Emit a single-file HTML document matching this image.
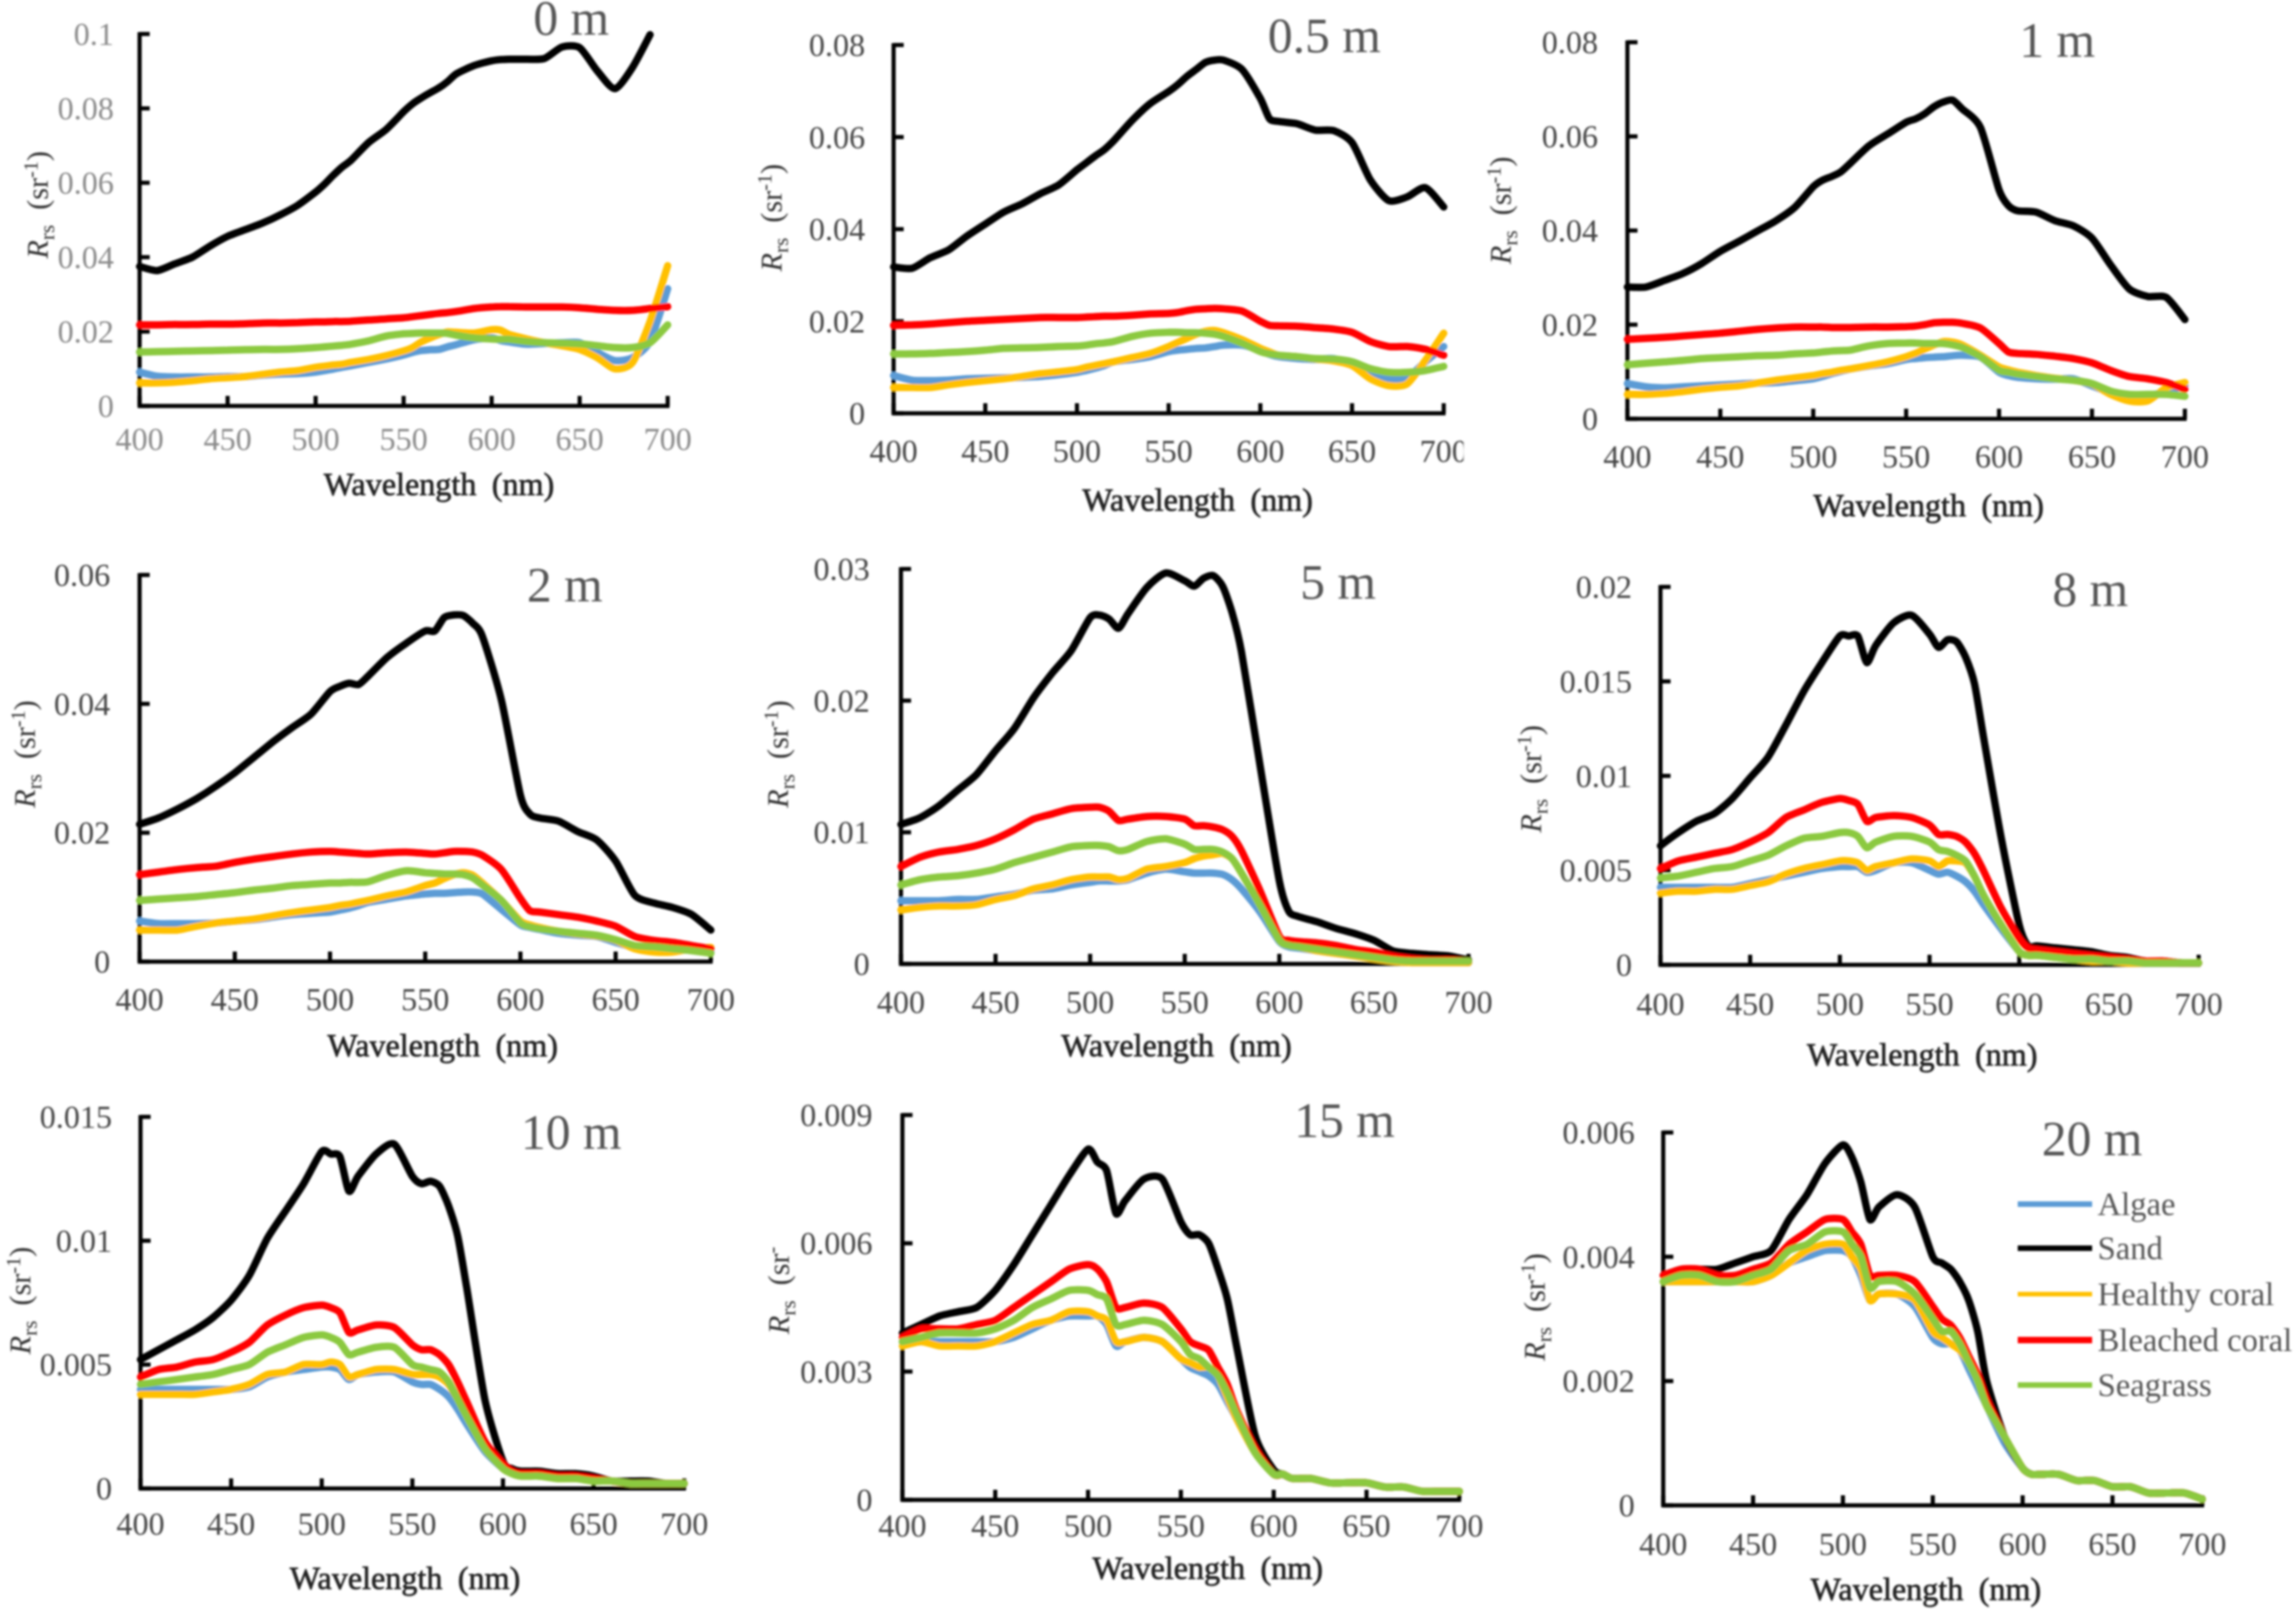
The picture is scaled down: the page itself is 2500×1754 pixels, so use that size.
<!DOCTYPE html>
<html lang="en">
<head>
<meta charset="utf-8">
<title>Rrs spectra by depth</title>
<style>
html,body{margin:0;padding:0;background:#fff;width:2500px;height:1754px;overflow:hidden}
svg{display:block}
text{font-family:"Liberation Serif",serif}
.tick{font-size:35px;fill:#444}
.tick-light{font-size:35px;fill:#8a8a8a}
.xt{font-size:35px;fill:#222;stroke:#222;stroke-width:.7px;text-anchor:middle}
.yt{font-size:33px;fill:#333;text-anchor:middle}
.tt{font-size:54px;fill:#555;text-anchor:middle}
.lg{font-size:35.5px;fill:#555}
</style>
</head>
<body>
<svg id="figure" xmlns="http://www.w3.org/2000/svg" width="2500" height="1754" viewBox="0 0 2500 1754">
<defs><filter id="soft" x="-2%" y="-2%" width="104%" height="104%"><feGaussianBlur stdDeviation="1"/></filter></defs>
<rect width="2500" height="1754" fill="#fff"/>
<g filter="url(#soft)">

<g id="panel-0">
<text class="tt" x="622" y="38">0 m</text>
<text class="xt" x="478" y="539">Wavelength<tspan dx="8"> (nm)</tspan></text>
<text class="yt" transform="translate(52,223) rotate(-90)"><tspan font-style="italic">R</tspan><tspan dy="7" font-size="23">rs</tspan><tspan dy="-7" dx="8"> (sr</tspan><tspan dy="-11" font-size="22">-1</tspan><tspan dy="11">)</tspan></text>
</g>

<g id="panel-1">
<text class="tt" x="1442" y="57">0.5 m</text>
<text class="xt" x="1304" y="556">Wavelength<tspan dx="8"> (nm)</tspan></text>
<text class="yt" transform="translate(851,237) rotate(-90)"><tspan font-style="italic">R</tspan><tspan dy="7" font-size="23">rs</tspan><tspan dy="-7" dx="8"> (sr</tspan><tspan dy="-11" font-size="22">-1</tspan><tspan dy="11">)</tspan></text>
</g>

<g id="panel-2">
<text class="tt" x="2240" y="62">1 m</text>
<text class="xt" x="2100" y="562">Wavelength<tspan dx="8"> (nm)</tspan></text>
<text class="yt" transform="translate(1645,229) rotate(-90)"><tspan font-style="italic">R</tspan><tspan dy="7" font-size="23">rs</tspan><tspan dy="-7" dx="8"> (sr</tspan><tspan dy="-11" font-size="22">-1</tspan><tspan dy="11">)</tspan></text>
</g>

<g id="panel-3">
<text class="tt" x="615" y="655">2 m</text>
<text class="xt" x="482" y="1150">Wavelength<tspan dx="8"> (nm)</tspan></text>
<text class="yt" transform="translate(38,821) rotate(-90)"><tspan font-style="italic">R</tspan><tspan dy="7" font-size="23">rs</tspan><tspan dy="-7" dx="8"> (sr</tspan><tspan dy="-11" font-size="22">-1</tspan><tspan dy="11">)</tspan></text>
</g>

<g id="panel-4">
<text class="tt" x="1457" y="652">5 m</text>
<text class="xt" x="1281" y="1150">Wavelength<tspan dx="8"> (nm)</tspan></text>
<text class="yt" transform="translate(858,821) rotate(-90)"><tspan font-style="italic">R</tspan><tspan dy="7" font-size="23">rs</tspan><tspan dy="-7" dx="8"> (sr</tspan><tspan dy="-11" font-size="22">-1</tspan><tspan dy="11">)</tspan></text>
</g>

<g id="panel-5">
<text class="tt" x="2276" y="660">8 m</text>
<text class="xt" x="2093" y="1160">Wavelength<tspan dx="8"> (nm)</tspan></text>
<text class="yt" transform="translate(1678,848) rotate(-90)"><tspan font-style="italic">R</tspan><tspan dy="7" font-size="23">rs</tspan><tspan dy="-7" dx="8"> (sr</tspan><tspan dy="-11" font-size="22">-1</tspan><tspan dy="11">)</tspan></text>
</g>

<g id="panel-6">
<text class="tt" x="622" y="1251">10 m</text>
<text class="xt" x="441" y="1730">Wavelength<tspan dx="8"> (nm)</tspan></text>
<text class="yt" transform="translate(33,1416) rotate(-90)"><tspan font-style="italic">R</tspan><tspan dy="7" font-size="23">rs</tspan><tspan dy="-7" dx="8"> (sr</tspan><tspan dy="-11" font-size="22">-1</tspan><tspan dy="11">)</tspan></text>
</g>

<g id="panel-7">
<text class="tt" x="1464" y="1238">15 m</text>
<text class="xt" x="1315" y="1719">Wavelength<tspan dx="8"> (nm)</tspan></text>
<text class="yt" transform="translate(859,1405) rotate(-90)"><tspan font-style="italic">R</tspan><tspan dy="7" font-size="23">rs</tspan><tspan dy="-7" dx="8"> (sr</tspan><tspan dy="-11" font-size="22">-</tspan></text>
</g>

<g id="panel-8">
<text class="tt" x="2278" y="1258">20 m</text>
<text class="xt" x="2097" y="1742">Wavelength<tspan dx="8"> (nm)</tspan></text>
<text class="yt" transform="translate(1682,1423) rotate(-90)"><tspan font-style="italic">R</tspan><tspan dy="7" font-size="23">rs</tspan><tspan dy="-7" dx="8"> (sr</tspan><tspan dy="-11" font-size="22">-1</tspan><tspan dy="11">)</tspan></text>
</g>

<g>
<g><line x1="2197" x2="2278" y1="1311" y2="1311" stroke="#5b9bd5" stroke-width="6"/><text class="lg" x="2284" y="1323">Algae</text></g>
<g><line x1="2197" x2="2278" y1="1359" y2="1359" stroke="#000" stroke-width="6"/><text class="lg" x="2284" y="1371">Sand</text></g>
<g><line x1="2197" x2="2278" y1="1409" y2="1409" stroke="#ffc000" stroke-width="5"/><text class="lg" x="2284" y="1421">Healthy coral</text></g>
<g><line x1="2197" x2="2278" y1="1459" y2="1459" stroke="#ff0000" stroke-width="7"/><text class="lg" x="2284" y="1471">Bleached coral</text></g>
<g><line x1="2197" x2="2278" y1="1508" y2="1508" stroke="#8bc93f" stroke-width="6"/><text class="lg" x="2284" y="1520">Seagrass</text></g>
</g>
</g>
</svg>
<script>
// Values in units of 1e-5 sr^-1.
const valueUnit = 1e-5;
const wavelengths = [400,410,420,430,440,450,460,470,480,490,500,505,510,515,520,530,540,550,555,560,565,570,575,580,590,600,605,610,620,630,640,650,660,670,680,690,700];
const xTickLabels = [400,450,500,550,600,650,700];

const yTicks0 = ["0","0.02","0.04","0.06","0.08","0.1"];
const algae0 = [910,800,780,780,780,790,790,830,860,870,910,950,990,1040,1080,1170,1260,1370,1440,1490,1510,1520,1590,1650,1780,1830,1760,1720,1660,1680,1700,1700,1440,1220,1300,1740,3150];
const sand0 = [3750,3640,3820,4000,4300,4560,4740,4920,5140,5400,5750,5960,6200,6420,6600,7080,7430,7910,8120,8280,8420,8550,8720,8930,9150,9280,9310,9320,9320,9340,9650,9630,9010,8530,9100,9980,null];
const healthy0 = [620,620,640,680,730,760,790,850,910,950,1040,1070,1100,1120,1170,1250,1350,1480,1570,1720,1830,1920,1990,1980,1960,2050,2040,1920,1800,1700,1620,1520,1300,1000,1170,2270,3770];
const bleached0 = [2180,2180,2190,2190,2200,2200,2210,2230,2230,2240,2260,2260,2270,2270,2280,2310,2340,2370,2400,2430,2460,2490,2510,2540,2620,2660,2670,2670,2660,2660,2660,2640,2600,2570,2570,2620,2670];
const seagrass0 = [1450,1460,1470,1480,1490,1500,1510,1520,1520,1540,1570,1590,1610,1630,1660,1750,1880,1940,1950,1960,1960,1960,1950,1900,1830,1800,1790,1790,1730,1700,1690,1670,1620,1570,1570,1700,2180];

const yTicks05 = ["0","0.02","0.04","0.06","0.08"];
const algae05 = [820,720,710,720,750,760,770,780,800,840,890,930,980,1040,1120,1170,1230,1340,1370,1390,1410,1420,1450,1480,1480,1370,1280,1230,1190,1170,1190,1040,860,750,780,1120,1450];
const sand05 = [3180,3150,3380,3550,3850,4110,4370,4550,4770,4960,5290,5440,5590,5730,5920,6360,6730,6990,7140,7320,7470,7620,7670,7670,7470,6840,6400,6340,6290,6150,6140,5880,5070,4620,4700,4900,4480];
const healthy05 = [560,560,560,620,670,710,750,800,860,900,950,1000,1040,1080,1120,1210,1300,1450,1540,1630,1720,1780,1800,1750,1600,1410,1330,1260,1230,1180,1140,1040,750,600,640,1150,1740];
const bleached05 = [1910,1920,1940,1970,2000,2020,2040,2060,2080,2080,2080,2090,2100,2110,2110,2130,2160,2170,2190,2230,2260,2270,2280,2270,2220,2000,1910,1900,1890,1860,1830,1760,1560,1450,1450,1390,1260];
const seagrass05 = [1290,1290,1300,1320,1340,1370,1410,1420,1430,1450,1460,1480,1510,1530,1560,1670,1740,1760,1760,1750,1750,1740,1720,1670,1520,1340,1290,1260,1230,1190,1180,1120,970,890,890,930,1020];

const yTicks1 = ["0","0.02","0.04","0.06","0.08"];
const algae1 = [750,680,660,680,700,720,740,760,770,810,850,900,960,1010,1060,1120,1170,1260,1280,1300,1310,1320,1340,1350,1310,990,920,880,850,840,850,700,560,460,480,590,700];
const sand1 = [2800,2800,2940,3090,3300,3560,3770,3990,4210,4490,4930,5070,5150,5250,5430,5800,6050,6300,6370,6480,6630,6730,6770,6590,6190,4860,4530,4420,4390,4210,4100,3840,3270,2760,2600,2580,2110];
const healthy1 = [520,520,540,580,630,670,700,760,820,870,920,960,990,1030,1060,1130,1210,1320,1390,1480,1570,1640,1630,1570,1350,1100,1040,990,920,860,820,740,520,380,380,660,770];
const bleached1 = [1690,1710,1730,1760,1790,1820,1860,1900,1930,1950,1950,1950,1940,1940,1940,1950,1950,1960,1970,2000,2040,2050,2050,2030,1930,1600,1420,1390,1370,1330,1280,1190,1030,900,850,770,630];
const seagrass1 = [1150,1180,1210,1240,1280,1300,1320,1340,1350,1380,1400,1420,1440,1450,1460,1550,1600,1610,1610,1600,1600,1600,1570,1520,1320,1030,990,950,900,850,820,750,590,520,520,520,480];

const yTicks2 = ["0","0.02","0.04","0.06"];
const algae2 = [630,590,590,590,600,630,650,690,730,750,770,800,830,870,920,970,1020,1050,1060,1060,1070,1080,1080,1050,810,570,530,500,440,410,390,300,220,200,200,190,150];
const sand2 = [2130,2230,2370,2530,2720,2930,3170,3410,3630,3840,4190,4270,4320,4300,4430,4720,4940,5130,5130,5340,5380,5370,5250,5050,4060,2580,2290,2230,2180,2020,1890,1560,1030,910,840,730,490];
const healthy2 = [490,490,490,550,600,630,660,710,760,800,840,870,890,920,950,1020,1080,1180,1220,1290,1350,1380,1340,1220,950,630,570,530,470,430,400,330,200,150,150,200,220];
const bleached2 = [1350,1390,1430,1460,1480,1540,1590,1630,1670,1700,1710,1700,1690,1680,1670,1690,1700,1680,1670,1690,1710,1710,1700,1650,1430,980,790,770,730,690,630,550,390,330,300,250,200];
const seagrass2 = [950,970,990,1010,1040,1070,1110,1140,1180,1200,1220,1220,1230,1230,1240,1340,1410,1380,1370,1360,1360,1350,1300,1190,950,600,540,510,470,440,410,340,250,230,200,170,130];

const yTicks5 = ["0","0.01","0.02","0.03"];
const algae5 = [480,480,480,490,490,510,530,560,570,600,620,630,630,630,640,690,720,700,690,690,690,680,640,570,390,170,130,120,100,80,60,40,20,10,10,10,10];
const sand5 = [1060,1110,1200,1320,1440,1620,1790,2020,2210,2380,2630,2650,2620,2550,2660,2860,2970,2910,2870,2930,2950,2870,2670,2370,1490,630,400,360,320,270,230,180,100,80,70,60,30];
const healthy5 = [410,430,440,440,450,490,520,570,600,640,660,660,660,640,650,720,740,770,800,820,830,840,800,690,440,180,140,130,100,80,60,40,20,10,10,10,10];
const bleached5 = [740,810,850,870,900,950,1020,1100,1140,1180,1190,1190,1160,1090,1100,1120,1120,1100,1050,1050,1040,1020,970,860,550,210,180,170,160,140,110,90,60,40,30,30,20];
const seagrass5 = [600,640,660,670,690,720,770,810,850,890,900,900,890,860,870,930,950,910,870,870,870,850,800,690,440,180,140,130,110,90,70,50,30,20,20,20,20];

const yTicks8 = ["0","0.005","0.01","0.015","0.02"];
const algae8 = [410,410,410,410,410,430,450,470,490,510,520,520,520,490,500,540,540,500,480,490,470,440,390,320,190,70,50,50,40,30,20,20,10,10,10,10,10];
const sand8 = [630,700,760,800,880,990,1100,1270,1450,1600,1740,1740,1740,1600,1690,1810,1850,1750,1680,1720,1710,1630,1490,1210,670,210,100,100,90,80,70,50,40,20,20,10,10];
const healthy8 = [380,390,390,400,400,420,440,480,510,530,550,550,540,500,520,540,560,550,520,550,550,540,470,370,210,70,50,50,40,30,20,20,10,10,10,10,10];
const bleached8 = [510,550,570,590,610,650,700,780,820,860,880,870,850,760,780,790,780,740,690,690,680,650,590,500,300,140,90,80,70,60,50,40,30,20,20,10,10];
const seagrass8 = [460,470,490,510,520,550,580,630,670,680,700,700,680,620,650,680,680,650,610,600,580,550,470,370,210,70,50,50,40,30,30,20,20,10,10,10,10];

const yTicks10 = ["0","0.005","0.01","0.015"];
const algae10 = [400,400,400,400,400,400,410,450,470,480,490,490,480,440,460,470,470,430,420,420,400,370,320,260,150,80,60,50,50,40,40,30,30,20,20,20,20];
const sand10 = [520,560,600,640,690,760,860,1010,1120,1230,1360,1350,1340,1200,1260,1350,1390,1260,1230,1240,1220,1140,1020,810,360,110,80,70,70,60,60,50,30,30,30,20,20];
const healthy10 = [380,380,380,380,390,400,420,460,470,500,500,510,500,450,460,480,480,460,460,460,450,420,360,290,160,80,60,50,50,40,40,30,30,20,20,20,20];
const bleached10 = [450,480,490,510,520,550,590,660,700,730,740,730,710,630,640,660,650,580,560,560,540,500,430,350,190,100,70,60,60,50,50,40,30,20,20,20,20];
const seagrass10 = [420,430,440,450,460,480,500,550,580,610,620,610,590,540,550,570,570,500,490,480,470,430,360,290,160,80,60,50,50,40,40,30,30,20,20,20,20];

const yTicks15 = ["0","0.003","0.006","0.009"];
const algae15 = [370,370,370,370,370,370,380,400,420,430,430,430,410,360,370,380,370,330,310,300,290,270,230,190,110,60,60,50,50,40,40,40,30,30,20,20,20];
const sand15 = [390,410,430,440,450,490,550,620,690,760,820,790,770,670,700,750,750,650,620,620,600,540,470,360,150,70,60,50,50,40,40,40,30,30,20,20,20];
const healthy15 = [360,370,360,360,360,370,390,410,420,440,440,430,420,370,370,380,370,330,320,310,310,290,240,190,110,60,60,50,50,40,40,40,30,30,20,20,20];
const bleached15 = [380,400,400,400,410,420,450,480,510,540,550,540,510,450,450,460,450,400,370,360,350,310,270,210,120,60,60,50,50,40,40,40,30,30,20,20,20];
const seagrass15 = [370,380,390,390,390,400,420,450,470,490,490,480,470,410,410,420,410,370,340,330,310,290,250,200,110,60,60,50,50,40,40,40,30,30,20,20,20];

const yTicks20 = ["0","0.002","0.004","0.006"];
const algae20 = [360,360,360,360,360,360,370,390,400,410,410,400,370,330,340,340,320,270,260,260,250,220,190,160,100,60,50,50,50,40,40,30,30,20,20,20,10];
const sand20 = [370,380,380,380,390,400,410,460,500,550,580,560,520,460,480,500,480,400,390,380,360,330,280,200,110,60,50,50,50,40,40,30,30,20,20,20,10];
const healthy20 = [360,360,360,360,360,360,370,390,410,420,420,400,380,330,340,340,330,280,270,260,250,230,200,160,110,60,50,50,50,40,40,30,30,20,20,20,10];
const bleached20 = [370,380,380,370,370,380,390,420,440,460,460,440,420,370,370,370,360,320,300,290,270,240,210,170,110,60,50,50,50,40,40,30,30,20,20,20,10];
const seagrass20 = [360,370,370,360,360,370,380,410,420,440,440,420,400,350,360,360,340,300,280,280,260,230,200,160,110,60,50,50,50,40,40,30,30,20,20,20,10];

// Panel frames (layout only)
const frames = [
 {xl:152,xr:727,yt:37,yb:442,lab:124,base:490,light:true,ticks:yTicks0,s:[algae0,sand0,healthy0,bleached0,seagrass0]},
 {xl:973,xr:1572,yt:49,yb:450,lab:942,base:503,ticks:yTicks05,s:[algae05,sand05,healthy05,bleached05,seagrass05]},
 {xl:1772,xr:2379,yt:46,yb:456,lab:1740,base:509,ticks:yTicks1,s:[algae1,sand1,healthy1,bleached1,seagrass1]},
 {xl:152,xr:774,yt:626,yb:1047,lab:120,base:1100,ticks:yTicks2,s:[algae2,sand2,healthy2,bleached2,seagrass2]},
 {xl:981,xr:1599,yt:619.5,yb:1049.5,lab:947,base:1103,ticks:yTicks5,s:[algae5,sand5,healthy5,bleached5,seagrass5]},
 {xl:1808,xr:2394,yt:639,yb:1050.5,lab:1777,base:1105,ticks:yTicks8,s:[algae8,sand8,healthy8,bleached8,seagrass8]},
 {xl:153,xr:745,yt:1216,yb:1620.6,lab:122,base:1671,ticks:yTicks10,s:[algae10,sand10,healthy10,bleached10,seagrass10]},
 {xl:982.6,xr:1589,yt:1214,yb:1633,lab:950,base:1673,ticks:yTicks15,s:[algae15,sand15,healthy15,bleached15,seagrass15]},
 {xl:1811,xr:2398,yt:1233,yb:1639,lab:1780,base:1693,ticks:yTicks20,s:[algae20,sand20,healthy20,bleached20,seagrass20]}
];
const seriesNames = ["algae","sand","healthy-coral","bleached-coral","seagrass"];
const seriesColors = ["#5b9bd5","#000000","#ffc000","#ff0000","#8bc93f"];
const seriesWidths = [8,8,8,8,8];

const NS = "http://www.w3.org/2000/svg";
function make(parent, tag, attrs, txt){
  const el = document.createElementNS(NS, tag);
  for (const k in attrs) el.setAttribute(k, attrs[k]);
  if (txt !== undefined) el.textContent = txt;
  parent.appendChild(el);
  return el;
}
function xScale(f, w){ return f.xl + (w - 400) / 300 * (f.xr - f.xl); }
function yScale(f, v){ return f.yb - v / parseFloat(f.ticks[f.ticks.length - 1]) * (f.yb - f.yt); }
// Smooth path through the data points (Catmull-Rom segments with reduced tension).
function smoothPath(pts){
  const k = 0.12;
  let d = "M" + pts[0][0].toFixed(1) + " " + pts[0][1].toFixed(1);
  for (let i = 0; i < pts.length - 1; i++) {
    const p0 = pts[Math.max(i - 1, 0)], p1 = pts[i], p2 = pts[i + 1], p3 = pts[Math.min(i + 2, pts.length - 1)];
    const c1x = p1[0] + (p2[0] - p0[0]) * k, c1y = p1[1] + (p2[1] - p0[1]) * k;
    const c2x = p2[0] - (p3[0] - p1[0]) * k, c2y = p2[1] - (p3[1] - p1[1]) * k;
    d += "C" + c1x.toFixed(1) + " " + c1y.toFixed(1) + " " + c2x.toFixed(1) + " " + c2y.toFixed(1) + " " + p2[0].toFixed(1) + " " + p2[1].toFixed(1);
  }
  return d;
}

frames.forEach(function(f, i){
  const g = document.getElementById("panel-" + i);
  const tickClass = f.light ? "tick-light" : "tick";

  const axes = make(g, "g", {stroke:"#000", "stroke-width":4.5, fill:"none"});
  
  
  const yAxis = make(axes, "line", {x1:f.xl, x2:f.xl, y1:f.yt - 2, y2:f.yb + 2});
  
  
  const xAxis = make(axes, "line", {x1:f.xl - 2, x2:f.xr + 2, y1:f.yb, y2:f.yb});
  
  

  f.ticks.forEach(function(lbl){
    const y = yScale(f, parseFloat(lbl));
    const tk = make(axes, "line", {x1:f.xl, x2:f.xl + 11, y1:y, y2:y});
    
    
    const t = make(g, "text", {"class":tickClass, x:f.lab, y:y + 12, "text-anchor":"end"}, lbl);
    
    
  });
  xTickLabels.forEach(function(w){
    const x = xScale(f, w);
    const tk = make(axes, "line", {x1:x, x2:x, y1:f.yb, y2:f.yb - 11});
    
    
    const t = make(g, "text", {"class":tickClass, x:x, y:f.base, "text-anchor":"middle"}, String(w));
    
    
  });

  f.s.forEach(function(vals, k){
    const pts = [];
    vals.forEach(function(v, n){
      if (v === null || v === undefined) return;
      pts.push([xScale(f, wavelengths[n]), yScale(f, v * valueUnit)]);
    });
    const p = make(g, "path", {d:smoothPath(pts), fill:"none", stroke:seriesColors[k], "stroke-width":seriesWidths[k], "stroke-linejoin":"round", "stroke-linecap":"round"});
    
    
  });

  if (i === 1) {
    const mask = make(g, "rect", {x:1594, y:470, width:60, height:50, fill:"#fff"});
    
    
  }
});
</script>
</body>
</html>
